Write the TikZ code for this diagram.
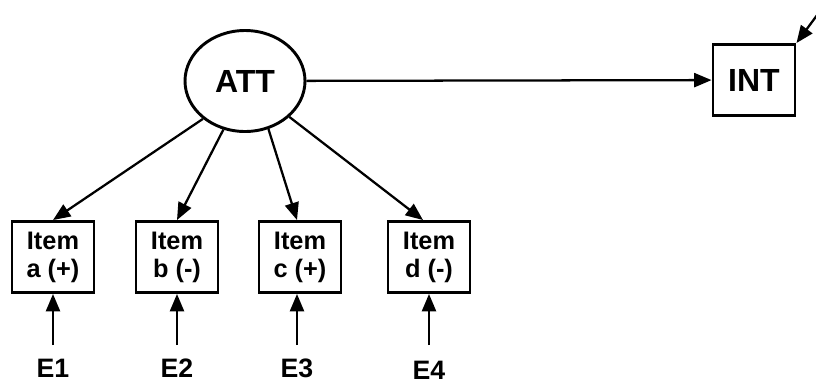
\documentclass[tikz,border=0pt]{standalone}
\usepackage{fontspec}
\setmainfont{Liberation Sans}
\usetikzlibrary{arrows.meta,shapes.geometric}
\begin{document}
\begin{tikzpicture}[x=0.75pt,y=-0.75pt,
  latent/.style={ellipse,draw,line width=2.2pt,minimum width=120*0.75pt,minimum height=101*0.75pt,inner sep=0pt,font=\bfseries\fontsize{24}{28}\selectfont},
  obsbox/.style={rectangle,draw,line width=2.2pt,minimum width=82*0.75pt,minimum height=71*0.75pt,inner sep=0pt,align=center,font=\bfseries\fontsize{19}{21}\selectfont},
  bigbox/.style={rectangle,draw,line width=2.2pt,minimum width=82*0.75pt,minimum height=71*0.75pt,inner sep=0pt,font=\bfseries\fontsize{24}{28}\selectfont},
  errlabel/.style={font=\bfseries\fontsize{20}{24}\selectfont,inner sep=0pt},
  conn/.style={line width=1.7pt,-{Triangle[length=13pt,width=10.5pt]}}]
\useasboundingbox (0,0) rectangle (816,383);
\node[latent] (att) at (245,81) {ATT};
\node[bigbox] (int) at (754,80) {INT};
\node[obsbox] (ia) at (53,257) {Item\\a (+)};
\node[obsbox] (ib) at (177,257) {Item\\b (-)};
\node[obsbox] (ic) at (300,257) {Item\\c (+)};
\node[obsbox] (id) at (429,257) {Item\\d (-)};
\node[errlabel,anchor=base] (e1) at (53,377) {E1};
\node[errlabel,anchor=base] (e2) at (177,377) {E2};
\node[errlabel,anchor=base] (e3) at (297,377) {E3};
\node[errlabel,anchor=base] (e4) at (429,379) {E4};
\coordinate (ext) at (826,3);
\coordinate (s1) at (53,345);
\coordinate (s2) at (177,345);
\coordinate (s3) at (297,345);
\coordinate (s4) at (429,345);
\draw[conn] (att) -- (int);
\draw[conn] (ext) -- (int.north east);
\draw[conn] (att.222) -- (ia.north);
\draw[conn] (att.246) -- (ib.north);
\draw[conn] (att.296) -- ([xshift=-3*0.75pt]ic.north);
\draw[conn] (att.321) -- ([xshift=-6*0.75pt]id.north);
\draw[conn] (s1) -- (ia.south);
\draw[conn] (s2) -- (ib.south);
\draw[conn] (s3) -- (s3 |- ic.south);
\draw[conn] (s4) -- (id.south);
\end{tikzpicture}
\end{document}
